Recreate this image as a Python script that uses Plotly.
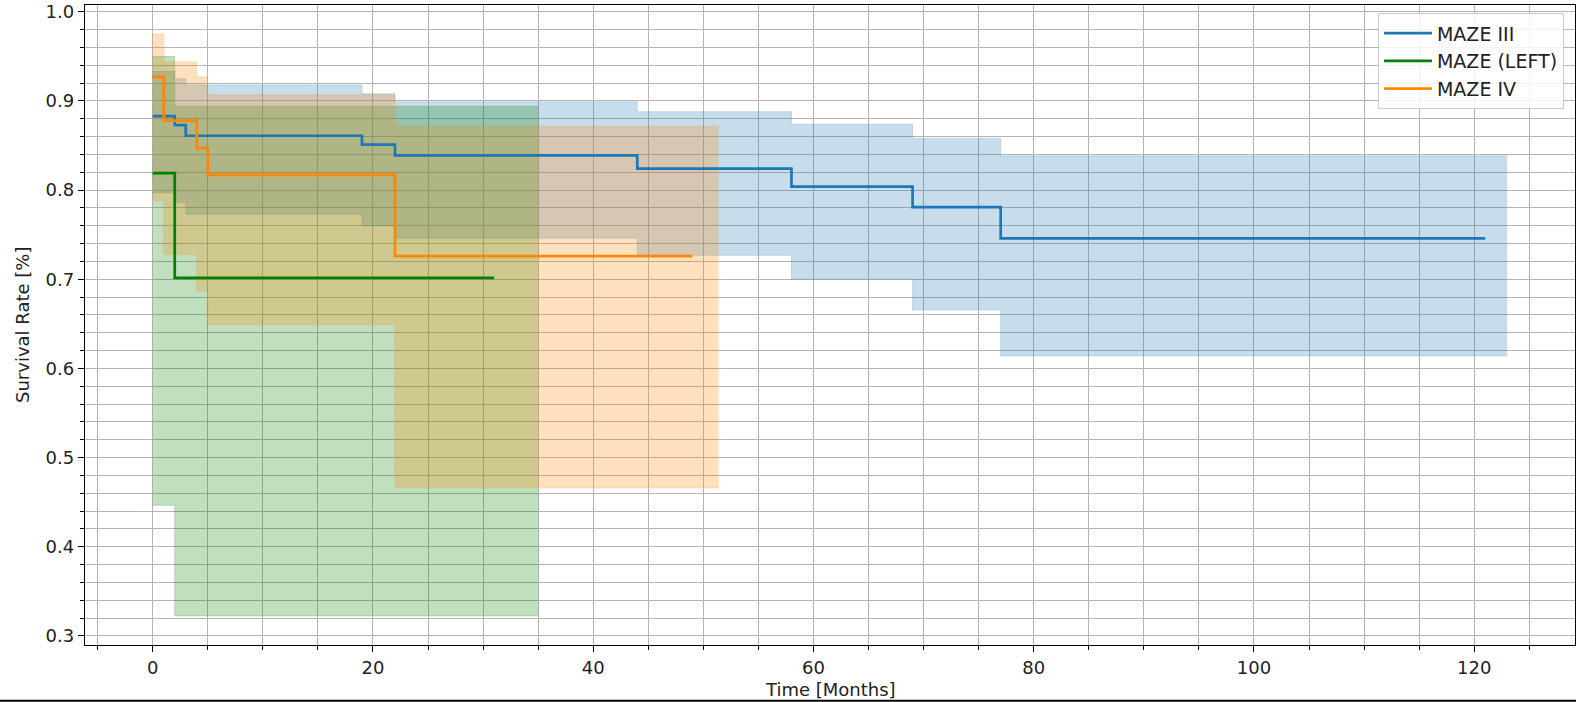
import plotly.graph_objects as go

# ---------------- data ----------------
# MAZE III
m3_time = [0, 2, 3, 19, 22, 44, 58, 69, 77, 121]
m3_surv = [0.883, 0.873, 0.861, 0.851, 0.839, 0.824, 0.804, 0.781, 0.746, 0.746]
m3_ci_time = [0, 2, 3, 19, 22, 44, 58, 69, 77, 123]
m3_ci_hi = [0.933, 0.925, 0.918, 0.908, 0.899, 0.888, 0.874, 0.858, 0.8385, 0.8385]
m3_ci_lo = [0.797, 0.786, 0.773, 0.760, 0.746, 0.727, 0.700, 0.6655, 0.614, 0.614]

# MAZE (LEFT)
ml_time = [0, 2, 31]
ml_surv = [0.819, 0.7015, 0.7015]
ml_ci_time = [0, 2, 35]
ml_ci_hi = [0.950, 0.894, 0.894]
ml_ci_lo = [0.4465, 0.3225, 0.3225]

# MAZE IV
m4_time = [0, 1, 4, 5, 22, 49]
m4_surv = [0.927, 0.878, 0.847, 0.817, 0.726, 0.726]
m4_ci_time = [0, 1, 4, 5, 22, 51.4]
m4_ci_hi = [0.975, 0.944, 0.927, 0.907, 0.872, 0.872]
m4_ci_lo = [0.788, 0.728, 0.687, 0.649, 0.466, 0.466]

series = [
    ("MAZE III", m3_time, m3_surv, m3_ci_time, m3_ci_hi, m3_ci_lo, "#1f77b4", "rgba(31,119,180,0.25)"),
    ("MAZE (LEFT)", ml_time, ml_surv, ml_ci_time, ml_ci_hi, ml_ci_lo, "#008000", "rgba(0,128,0,0.25)"),
    ("MAZE IV", m4_time, m4_surv, m4_ci_time, m4_ci_hi, m4_ci_lo, "#ff8800", "rgba(255,136,0,0.25)"),
]

FONT = "DejaVu Sans"
TXT = "#222222"
GRID = "#b4b4b4"

fig = go.Figure()

# confidence bands
for name, t, s, ct, hi, lo, col, fcol in series:
    fig.add_trace(go.Scatter(x=ct, y=hi, mode="lines", line=dict(shape="hv", width=0.8, color=fcol),
                             showlegend=False, hoverinfo="skip"))
    fig.add_trace(go.Scatter(x=ct, y=lo, mode="lines", line=dict(shape="hv", width=0.8, color=fcol),
                             fill="tonexty", fillcolor=fcol, showlegend=False, hoverinfo="skip"))

# survival curves
for name, t, s, ct, hi, lo, col, fcol in series:
    fig.add_trace(go.Scatter(x=t, y=s, mode="lines", name=name,
                             line=dict(shape="hv", width=2.7, color=col)))

axis_common = dict(
    showline=True, linecolor="black", linewidth=1.3, mirror=True,
    ticks="outside", ticklen=6, tickwidth=1.3, tickcolor="black",
    showgrid=True, gridcolor=GRID, gridwidth=1.2, zeroline=False,
    tickfont=dict(family=FONT, size=18, color=TXT), automargin=False,
)

fig.update_xaxes(
    range=[-6.15, 129.15], tick0=0, dtick=20,
    minor=dict(tick0=0, dtick=5, ticks="outside", ticklen=3.5, tickwidth=1, tickcolor="black",
               showgrid=True, gridcolor=GRID, gridwidth=1.2),
    **axis_common,
)
fig.update_yaxes(
    range=[0.2899, 1.0076], tick0=0, dtick=0.1, tickformat=".1f",
    minor=dict(tick0=0, dtick=0.02, ticks="outside", ticklen=3.5, tickwidth=1, tickcolor="black",
               showgrid=True, gridcolor=GRID, gridwidth=1.2),
    **axis_common,
)

fig.update_layout(
    width=1576, height=702,
    margin=dict(l=85, r=1, t=5, b=57, autoexpand=False),
    plot_bgcolor="white", paper_bgcolor="white",
    font=dict(family=FONT, size=18, color=TXT),
    legend=dict(x=0.9926, xanchor="right", y=0.987, yanchor="top", traceorder="normal",
                itemwidth=48,
                bgcolor="rgba(255,255,255,0.85)", bordercolor="#cccccc", borderwidth=1,
                font=dict(family=FONT, size=19, color=TXT)),
    annotations=[
        dict(text="Time [Months]", xref="paper", yref="paper", x=0.5, y=-0.069,
             xanchor="center", yanchor="middle", showarrow=False,
             font=dict(family=FONT, size=18, color=TXT)),
        dict(text="Survival Rate [%]", xref="paper", yref="paper", x=-0.0423, y=0.5,
             xanchor="center", yanchor="middle", textangle=-90, showarrow=False,
             font=dict(family=FONT, size=18, color=TXT)),
    ],
    shapes=[
        dict(type="line", xref="paper", yref="paper", x0=-0.06, x1=1.01,
             y0=-0.0872, y1=-0.0872, line=dict(color="black", width=2), layer="above"),
    ],
)

fig.write_html("out.html", config={"displayModeBar": False},
               post_script="document.body.style.margin='0';document.body.style.overflow='hidden';")
